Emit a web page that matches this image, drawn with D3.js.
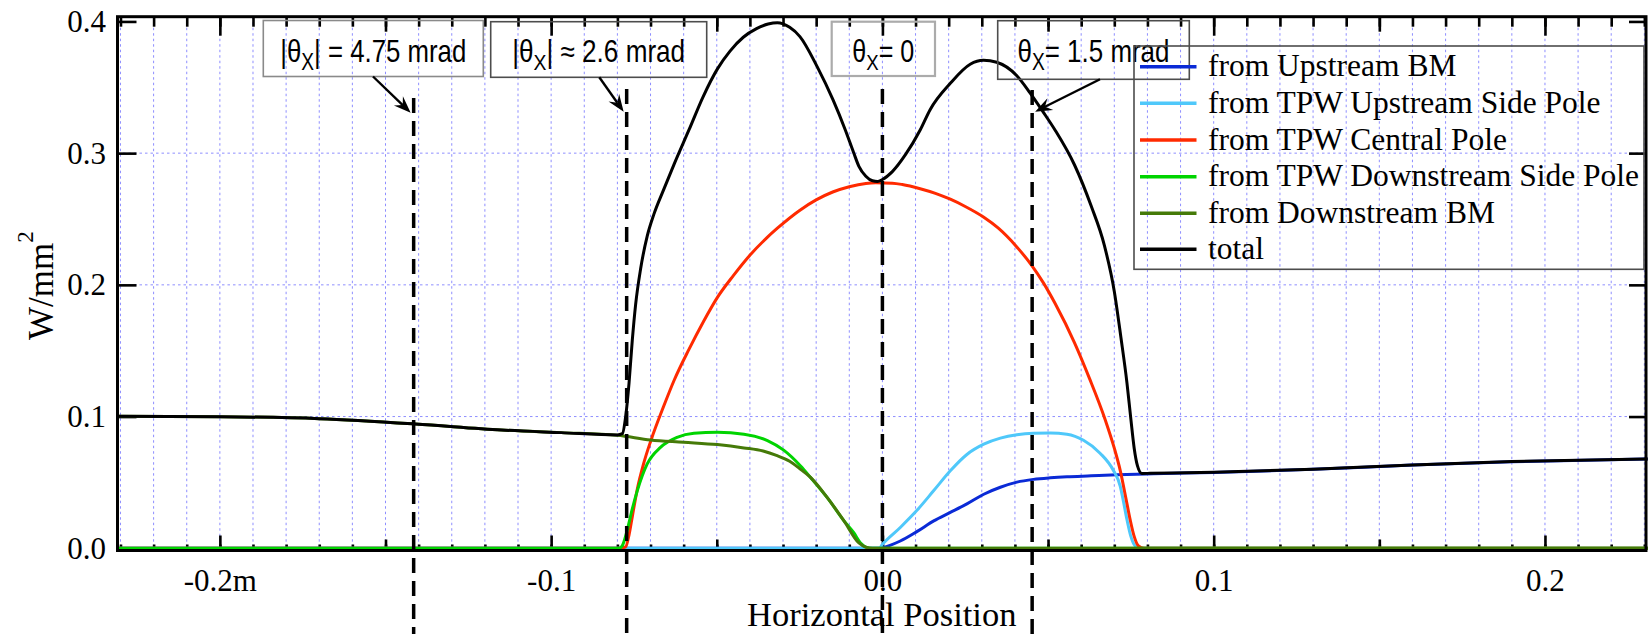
<!DOCTYPE html>
<html>
<head>
<meta charset="utf-8">
<script src="https://cdn.jsdelivr.net/npm/d3@7"></script>
<style>
  html, body { margin: 0; padding: 0; background: #fff; }
  svg { display: block; }
  .serif { font-family: "Liberation Serif", "Times New Roman", "DejaVu Serif", serif; }
  .sans  { font-family: "Liberation Sans", Arial, "DejaVu Sans", sans-serif; }
</style>
</head>
<body>
<svg id="chart" width="1652" height="634"></svg>
<script>
// ---- power density profiles (W/mm^2) vs horizontal position (m) ----
const upstreamBmX = [-0.231, -0.001, 0.0, 0.0054, 0.0105, 0.0155, 0.0205, 0.0255, 0.0306, 0.0356, 0.0406, 0.0456, 0.0507, 0.0557, 0.0630, 0.0708, 0.0818, 0.1000, 0.1300, 0.1600, 0.1900, 0.2310];
const upstreamBmY = [0, 0, 0.0005, 0.0055, 0.0128, 0.0208, 0.0272, 0.0337, 0.0410, 0.0463, 0.0502, 0.0523, 0.0535, 0.0543, 0.0550, 0.0558, 0.0566, 0.0575, 0.0599, 0.0632, 0.0657, 0.0677];

const upSidePoleX = [-0.231, -0.001, 0.0, 0.0054, 0.0105, 0.0155, 0.0205, 0.0255, 0.0306, 0.0356, 0.0406, 0.0456, 0.0507, 0.0557, 0.0607, 0.0657, 0.0697, 0.0718, 0.0728, 0.0738, 0.0750, 0.0762, 0.0775, 0.2310];
const upSidePoleY = [0, 0, 0.0030, 0.0158, 0.0290, 0.0438, 0.0588, 0.0712, 0.0790, 0.0836, 0.0862, 0.0873, 0.0875, 0.0866, 0.0820, 0.0722, 0.0592, 0.0470, 0.0350, 0.0220, 0.0090, 0.0020, 0, 0];

const centralPoleX = [-0.231, -0.0790, -0.0775, -0.0765, -0.0755, -0.0741, -0.0720, -0.0699, -0.0660, -0.0629, -0.0584, -0.0540, -0.0498, -0.0450, -0.0400, -0.0350, -0.0317, -0.0250, -0.0200, -0.0150, -0.0100, -0.0050, -0.0020, 0.0030, 0.0060, 0.0114, 0.0160, 0.0205, 0.0250, 0.0305, 0.0350, 0.0405, 0.0450, 0.0486, 0.0521, 0.0580, 0.0625, 0.0672, 0.0700, 0.0718, 0.0735, 0.0748, 0.0760, 0.0772, 0.0790, 0.2310];
const centralPoleY = [0, 0, 0.0010, 0.0100, 0.0240, 0.0436, 0.0650, 0.0817, 0.1080, 0.1274, 0.1510, 0.1722, 0.1905, 0.2070, 0.2225, 0.2355, 0.2430, 0.2565, 0.2645, 0.2705, 0.2745, 0.2770, 0.2775, 0.2772, 0.2762, 0.2730, 0.2695, 0.2650, 0.2595, 0.2515, 0.2430, 0.2290, 0.2150, 0.2015, 0.1860, 0.1560, 0.1290, 0.0980, 0.0760, 0.0590, 0.0380, 0.0215, 0.0090, 0.0020, 0, 0];

const downSidePoleX = [-0.231, -0.0795, -0.0785, -0.0771, -0.0755, -0.0740, -0.0710, -0.0670, -0.0620, -0.0569, -0.0498, -0.0418, -0.0347, -0.0298, -0.0247, -0.0217, -0.0167, -0.0116, -0.0087, -0.0066, -0.0046, -0.0030, 0.2310];
const downSidePoleY = [0, 0, 0.0020, 0.0130, 0.0300, 0.0436, 0.0640, 0.0766, 0.0842, 0.0873, 0.0880, 0.0866, 0.0818, 0.0745, 0.0625, 0.0538, 0.0386, 0.0208, 0.0120, 0.0040, 0.0005, 0, 0];

const downstreamBmX = [-0.231, -0.2000, -0.1700, -0.1410, -0.1150, -0.0970, -0.0800, -0.0700, -0.0600, -0.0498, -0.0418, -0.0360, -0.0320, -0.0280, -0.0250, -0.0217, -0.0167, -0.0116, -0.0071, -0.0050, -0.0030, 0.2310];
const downstreamBmY = [0.1003, 0.0999, 0.0984, 0.0944, 0.0898, 0.0878, 0.0858, 0.0822, 0.0805, 0.0787, 0.0762, 0.0738, 0.0705, 0.0660, 0.0605, 0.0538, 0.0386, 0.0208, 0.0040, 0.0008, 0, 0];

const totalX = [-0.231, -0.2000, -0.1700, -0.1410, -0.1150, -0.0970, -0.0800, -0.0785, -0.0775, -0.0765, -0.0755, -0.0745, -0.0730, -0.0710, -0.0690, -0.0660, -0.0629, -0.0584, -0.0541, -0.0498, -0.0460, -0.0420, -0.0380, -0.0345, -0.0317, -0.0280, -0.0249, -0.0197, -0.0149, -0.0112, -0.0087, -0.0071, -0.0050, -0.0030, -0.0015, 0.0000, 0.0030, 0.0070, 0.0114, 0.0144, 0.0205, 0.0265, 0.0305, 0.0345, 0.0405, 0.0445, 0.0486, 0.0521, 0.0580, 0.0630, 0.0670, 0.0700, 0.0720, 0.0738, 0.0750, 0.0760, 0.0770, 0.0783, 0.0808, 0.1000, 0.1300, 0.1600, 0.1900, 0.2310];
const totalY = [0.1003, 0.0999, 0.0984, 0.0944, 0.0898, 0.0878, 0.0860, 0.0870, 0.1000, 0.1250, 0.1580, 0.1850, 0.2120, 0.2370, 0.2535, 0.2725, 0.2915, 0.3176, 0.3430, 0.3640, 0.3775, 0.3880, 0.3945, 0.3980, 0.3990, 0.3955, 0.3885, 0.3657, 0.3404, 0.3176, 0.3005, 0.2900, 0.2825, 0.2790, 0.2785, 0.2800, 0.2860, 0.2990, 0.3176, 0.3330, 0.3530, 0.3675, 0.3705, 0.3690, 0.3590, 0.3460, 0.3310, 0.3176, 0.2910, 0.2600, 0.2300, 0.1950, 0.1600, 0.1260, 0.0980, 0.0760, 0.0625, 0.0568, 0.0569, 0.0577, 0.0600, 0.0633, 0.0658, 0.0678];

const seriesNames  = ["from Upstream BM", "from TPW Upstream Side Pole", "from TPW Central Pole", "from TPW Downstream Side Pole", "from Downstream BM", "total"];
const seriesColors = ["#0a2ad6", "#4fc8fa", "#ff2a00", "#00d400", "#457a08", "#000000"];

// axis ticks and labels
const xMajorTicks = [-0.2, -0.1, 0.0, 0.1, 0.2];
const xTickLabels = ["-0.2m", "-0.1", "0.0", "0.1", "0.2"];
const xMediumTicks = [-0.15, -0.05, 0.05, 0.15];
const yTicks = [0.0, 0.1, 0.2, 0.3, 0.4];
const yTickLabels = ["0.0", "0.1", "0.2", "0.3", "0.4"];

// angle markers: position on the screen (m) and label parts
const markerX = [-0.1415, -0.0772, 0.0, 0.0452];
const markerPre  = ["|θ", "|θ", "θ", "θ"];
const markerPost = ["| = 4.75 mrad", "| ≈ 2.6 mrad", "= 0", "= 1.5 mrad"];

// ---- layout ----
const svg = d3.select("#chart");
const plot = { left: 117.5, right: 1646, top: 16.7, bottom: 550.5 };
const x = d3.scaleLinear().domain([-0.2309, 0.2305]).range([plot.left, plot.right]);
const y = d3.scaleLinear().domain([-0.0017, 0.4036]).range([plot.bottom, plot.top]);

const gridColor = "#8e8eff";

// ---- grid ----
const minorTicks = d3.range(-23, 24).map(i => i / 100);
const grid = svg.append("g");
grid.selectAll("line.v").data(minorTicks).join("line")
  .attr("x1", d => x(d)).attr("x2", d => x(d))
  .attr("y1", plot.top).attr("y2", plot.bottom)
  .attr("stroke", gridColor).attr("stroke-width", 1).attr("stroke-dasharray", "2.5,3");
grid.selectAll("line.h").data([0.1, 0.2, 0.3]).join("line")
  .attr("x1", plot.left).attr("x2", plot.right)
  .attr("y1", d => y(d)).attr("y2", d => y(d))
  .attr("stroke", gridColor).attr("stroke-width", 1).attr("stroke-dasharray", "2.5,3");

// ---- axes (ticks point inward) ----
function styleAxis(g) {
  g.attr("font-family", null).attr("font-size", null);
  g.select(".domain").remove();
  g.selectAll(".tick line").attr("stroke", "#000").attr("stroke-width", 2.6);
  g.selectAll(".tick text").attr("class", "serif").attr("fill", "#000").style("font-size", "31px");
}
const bottom = (vals, len) => d3.axisBottom(x).tickValues(vals).tickSize(-len).tickFormat("");
const topAx = (vals, len) => d3.axisTop(x).tickValues(vals).tickSize(-len).tickFormat("");

svg.append("g").attr("transform", `translate(0,${plot.bottom})`).call(bottom(minorTicks, 6)).call(styleAxis);
svg.append("g").attr("transform", `translate(0,${plot.bottom})`).call(bottom(xMediumTicks, 11)).call(styleAxis);
svg.append("g").attr("transform", `translate(0,${plot.bottom})`)
  .call(d3.axisBottom(x).tickValues(xMajorTicks).tickSize(-15).tickPadding(18)
        .tickFormat((d, i) => xTickLabels[i]))
  .call(styleAxis);

svg.append("g").attr("transform", `translate(0,${plot.top})`).call(topAx(minorTicks, 10)).call(styleAxis);
svg.append("g").attr("transform", `translate(0,${plot.top})`).call(topAx(xMediumTicks, 15)).call(styleAxis);
svg.append("g").attr("transform", `translate(0,${plot.top})`).call(topAx(xMajorTicks, 19)).call(styleAxis);

svg.append("g").attr("transform", `translate(${plot.left},0)`)
  .call(d3.axisLeft(y).tickValues(yTicks).tickSize(-19).tickPadding(11.5)
        .tickFormat((d, i) => yTickLabels[i]))
  .call(styleAxis);
svg.append("g").attr("transform", `translate(${plot.right},0)`)
  .call(d3.axisRight(y).tickValues(yTicks).tickSize(-17).tickFormat(""))
  .call(styleAxis);

// ---- curves ----
const line = d3.line().x(d => x(d[0])).y(d => y(d[1])).curve(d3.curveMonotoneX);
const seriesXs = [upstreamBmX, upSidePoleX, centralPoleX, downSidePoleX, downstreamBmX, totalX];
const seriesYs = [upstreamBmY, upSidePoleY, centralPoleY, downSidePoleY, downstreamBmY, totalY];
const curves = svg.append("g");
seriesXs.forEach((xs, i) => {
  const pts = xs.map((v, j) => [v, seriesYs[i][j]]);
  curves.append("path").datum(pts)
    .attr("d", line)
    .attr("fill", "none")
    .attr("stroke", seriesColors[i])
    .attr("stroke-width", 3)
    .attr("stroke-linejoin", "round");
});

// ---- frame ----
svg.append("rect")
  .attr("x", plot.left).attr("y", plot.top)
  .attr("width", plot.right - plot.left).attr("height", plot.bottom - plot.top)
  .attr("fill", "none").attr("stroke", "#000").attr("stroke-width", 3);

// ---- axis titles ----
svg.append("text")
  .attr("class", "serif")
  .attr("x", (plot.left + plot.right) / 2).attr("y", 626)
  .attr("text-anchor", "middle")
  .style("font-size", "34.5px")
  .text("Horizontal Position");

const yTitle = svg.append("text")
  .attr("class", "serif")
  .attr("transform", "translate(53,340) rotate(-90)")
  .style("font-size", "35px");
yTitle.append("tspan").text("W/mm");
yTitle.append("tspan").style("font-size", "23px").attr("dy", -20).text("2");

// ---- angle markers: dashed lines ----
const lineTops = [98, 89, 89, 90];
svg.append("g").selectAll("line").data(markerX).join("line")
  .attr("x1", d => x(d)).attr("x2", d => x(d))
  .attr("y1", (d, i) => lineTops[i]).attr("y2", 634)
  .attr("stroke", "#000").attr("stroke-width", 3.5)
  .attr("stroke-dasharray", "15,8");

// ---- angle markers: label boxes ----
const boxes = [
  { x0: 263.3, x1: 483.3, y0: 20.5, y1: 76.5, stroke: "#8a8a8a", sw: 1.6, tw: 186 },
  { x0: 490.7, x1: 706.7, y0: 21.7, y1: 77.3, stroke: "#4d4d4d", sw: 1.6, tw: 173 },
  { x0: 831.7, x1: 935.0, y0: 21.7, y1: 76.0, stroke: "#ababab", sw: 2.2, tw: 62 },
  { x0: 997.7, x1: 1189.3, y0: 20.7, y1: 79.3, stroke: "#4d4d4d", sw: 1.6, tw: 152 }
];
const ann = svg.append("g");
boxes.forEach((b, i) => {
  ann.append("rect")
    .attr("x", b.x0).attr("y", b.y0)
    .attr("width", b.x1 - b.x0).attr("height", b.y1 - b.y0)
    .attr("fill", "none").attr("stroke", b.stroke).attr("stroke-width", b.sw);
  const g = ann.append("g");
  const t = g.append("text")
    .attr("class", "sans")
    .attr("x", 0).attr("y", 0)
    .style("font-size", "31px");
  t.append("tspan").text(markerPre[i]);
  t.append("tspan").style("font-size", "23px").attr("dy", 8).text("X");
  t.append("tspan").attr("dy", -8).text(markerPost[i]);
  const w = t.node().getBBox().width;
  const s = b.tw / w;
  const cx = (b.x0 + b.x1) / 2;
  g.attr("transform", `translate(${cx - b.tw / 2},61.5) scale(${s},1)`);
});

// ---- arrows from boxes to marker lines ----
const arrows = [
  { from: [373, 76.5], to: [x(markerX[0]) - 3, 112.7] },
  { from: [599.3, 77.3], to: [x(markerX[1]) - 3, 111.7] },
  { from: [1100, 79.3], to: [x(markerX[3]) + 3, 111.7] }
];
arrows.forEach(a => {
  const dx = a.to[0] - a.from[0], dy = a.to[1] - a.from[1];
  const L = Math.hypot(dx, dy);
  const ux = dx / L, uy = dy / L, nx = -uy, ny = ux;
  const hl = 17, hw = 6.5, notch = 11;
  ann.append("line")
    .attr("x1", a.from[0]).attr("y1", a.from[1])
    .attr("x2", a.to[0] - ux * notch).attr("y2", a.to[1] - uy * notch)
    .attr("stroke", "#000").attr("stroke-width", 2.4);
  const T = a.to;
  const p = [
    T,
    [T[0] - ux * hl + nx * hw, T[1] - uy * hl + ny * hw],
    [T[0] - ux * notch, T[1] - uy * notch],
    [T[0] - ux * hl - nx * hw, T[1] - uy * hl - ny * hw]
  ];
  ann.append("path").attr("d", "M" + p.map(q => q.join(",")).join("L") + "Z").attr("fill", "#000");
});

// ---- legend ----
const leg = { x0: 1134, x1: 1644, y0: 46, y1: 269.3 };
const legendRows = [66.7, 103.3, 140, 176.7, 213.3, 249.3];
const lg = svg.append("g");
lg.append("rect")
  .attr("x", leg.x0).attr("y", leg.y0)
  .attr("width", leg.x1 - leg.x0).attr("height", leg.y1 - leg.y0)
  .attr("fill", "none").attr("stroke", "#4d4d4d").attr("stroke-width", 1.6);
seriesNames.forEach((name, i) => {
  lg.append("line")
    .attr("x1", 1140).attr("x2", 1196.5)
    .attr("y1", legendRows[i]).attr("y2", legendRows[i])
    .attr("stroke", seriesColors[i]).attr("stroke-width", 3.4);
  lg.append("text")
    .attr("class", "serif")
    .attr("x", 1208).attr("y", legendRows[i] + 9.5)
    .style("font-size", "31.5px")
    .text(name);
});
</script>
</body>
</html>
